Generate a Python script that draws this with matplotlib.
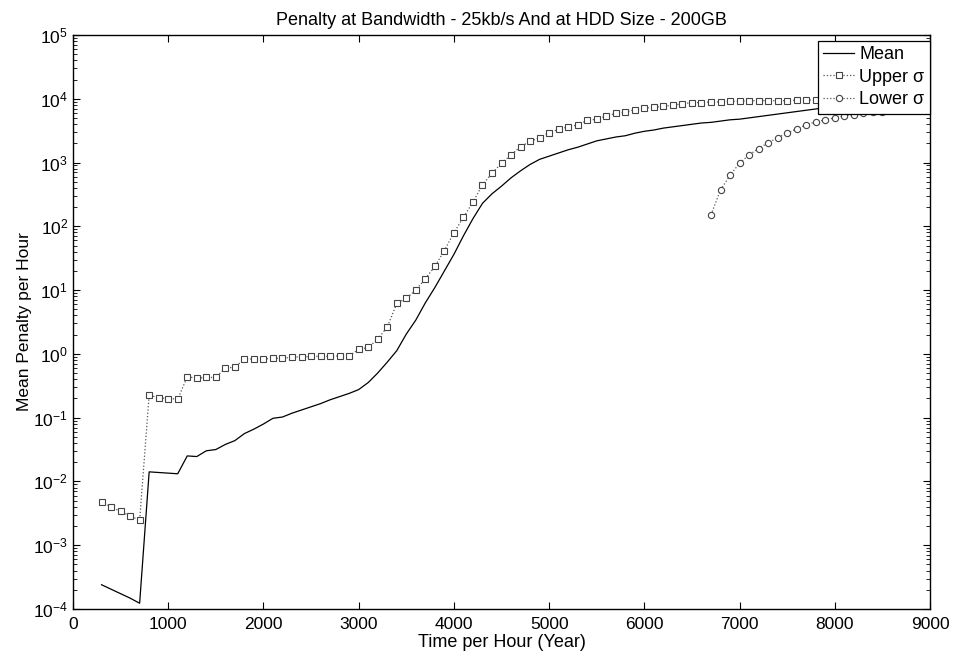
import numpy as np
import matplotlib
matplotlib.use("Agg")
from matplotlib import pyplot as plt
from matplotlib.ticker import LogLocator, NullFormatter

plt.rcParams['font.family'] = ['Liberation Sans', 'DejaVu Sans']

#==========Data (log10 of penalty)==========
x_main = np.arange(300, 9001, 100)

mean_log = [-3.62, -3.69, -3.76, -3.83, -3.91, -1.85, -1.86, -1.87, -1.88, -1.60,
            -1.61, -1.52, -1.50, -1.42, -1.36, -1.25, -1.18, -1.10, -1.01, -0.99,
            -0.93, -0.88, -0.83, -0.78, -0.72, -0.67, -0.62, -0.56, -0.45, -0.30,
            -0.13, 0.05, 0.31, 0.53, 0.80, 1.04, 1.30, 1.56, 1.85, 2.12,
            2.36, 2.51, 2.63, 2.76, 2.87, 2.97, 3.05, 3.10, 3.15, 3.20,
            3.24, 3.29, 3.34, 3.37, 3.40, 3.42, 3.46, 3.49, 3.51, 3.54,
            3.56, 3.58, 3.60, 3.62, 3.63, 3.65, 3.67, 3.68, 3.70, 3.72,
            3.74, 3.76, 3.78, 3.80, 3.82, 3.84, 3.86, 3.88, 3.89, 3.90,
            3.91, 3.92, 3.93, 3.94, 3.95, 3.96, 3.97, 3.98]

upper_log = [-2.32, -2.40, -2.47, -2.54, -2.61, -0.645, -0.69, -0.70, -0.71, -0.36,
             -0.38, -0.37, -0.37, -0.22, -0.21, -0.08, -0.08, -0.08, -0.07, -0.07,
             -0.05, -0.05, -0.04, -0.04, -0.04, -0.03, -0.03, 0.07, 0.10, 0.23,
             0.42, 0.79, 0.87, 1.00, 1.18, 1.37, 1.62, 1.90, 2.14, 2.38,
             2.65, 2.83, 2.99, 3.12, 3.25, 3.33, 3.39, 3.47, 3.52, 3.56,
             3.59, 3.66, 3.68, 3.73, 3.77, 3.79, 3.83, 3.85, 3.87, 3.88,
             3.90, 3.92, 3.94, 3.94, 3.95, 3.95, 3.96, 3.96, 3.97, 3.97,
             3.97, 3.97, 3.97, 3.98, 3.98, 3.98, 3.99, 3.99, 3.99, 3.99,
             3.99, 4.00, 4.00, 4.00, 4.00, 4.00, 4.00, 4.00]

x_lower = np.arange(6700, 9001, 100)
lower_log = [2.18, 2.57, 2.80, 2.99, 3.12, 3.22, 3.31, 3.39, 3.46, 3.53,
             3.59, 3.64, 3.67, 3.70, 3.73, 3.75, 3.77, 3.79, 3.80, 3.82,
             3.83, 3.84, 3.85, 3.86]

y_decades = list(range(-4, 6))

mean = 10 ** np.array(mean_log)
upper = 10 ** np.array(upper_log)
lower = 10 ** np.array(lower_log)

#==========Plot==========
fig = plt.figure(figsize=(9.59, 6.60), dpi=100)
ax = fig.add_axes([0.0761, 0.0773, 0.8937, 0.8697])

ax.semilogy(x_main, mean, '-', color='black', lw=0.9, label='Mean')
ax.semilogy(x_main, upper, ':', color='#555555', lw=0.9, marker='s', ms=4.5,
            mfc='white', mec='#444444', mew=0.8, label='Upper σ')
ax.semilogy(x_lower, lower, ':', color='#555555', lw=0.9, marker='o', ms=4.5,
            mfc='white', mec='#444444', mew=0.8, label='Lower σ')

ax.set_xlim(0, 9000)
ax.set_ylim(1e-4, 1e5)
ax.set_xticks(np.arange(0, 9001, 1000))
ax.set_yticks([10.0 ** d for d in y_decades])
ax.yaxis.set_minor_locator(LogLocator(base=10, subs=np.arange(2, 10), numticks=200))
ax.yaxis.set_minor_formatter(NullFormatter())
ax.tick_params(which='both', direction='in', top=True, right=True, labelsize=12.5)
ax.tick_params(axis='x', pad=6)
ax.tick_params(which='major', length=5)
ax.tick_params(which='minor', length=3)
for s in ax.spines.values():
    s.set_linewidth(1.0)

ax.set_title('Penalty at Bandwidth - 25kb/s And at HDD Size - 200GB', fontsize=13, pad=7)
ax.set_xlabel('Time per Hour (Year)', fontsize=13, labelpad=1)
ax.set_ylabel('Mean Penalty per Hour', fontsize=12.5, labelpad=1)

leg = ax.legend(loc='upper right', bbox_to_anchor=(1.0, 1 - 6 / 574), fontsize=13,
                frameon=True, fancybox=False, borderaxespad=0, handlelength=1.7,
                handletextpad=0.3, borderpad=0.3, labelspacing=0.3)
leg.get_frame().set_edgecolor('black')
leg.get_frame().set_linewidth(0.9)
leg.get_frame().set_alpha(1)

plt.savefig('out.png', dpi=100)
